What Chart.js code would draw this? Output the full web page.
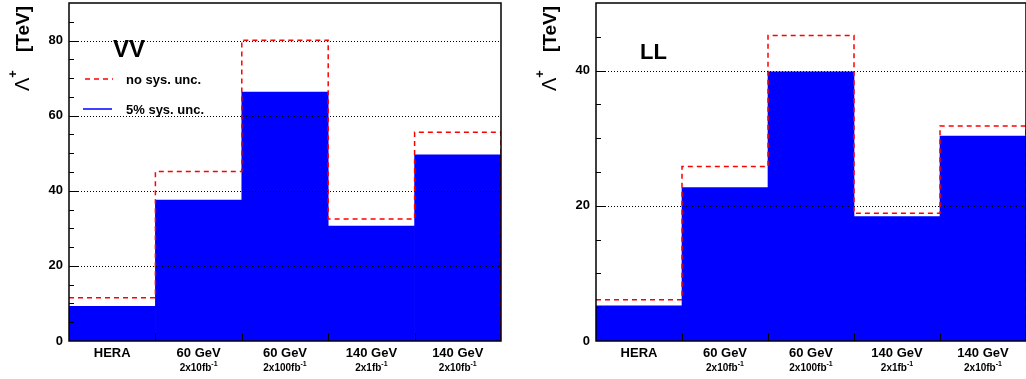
<!DOCTYPE html>
<html>
<head>
<meta charset="utf-8">
<script src="https://cdn.jsdelivr.net/npm/chart.js@4.4.1/dist/chart.umd.min.js"></script>
<style>
  html, body { margin: 0; padding: 0; background: #fff; overflow: hidden; }
  #wrap { position: relative; width: 1026px; height: 379px; }
  canvas { position: absolute; top: 0; }
</style>
</head>
<body>
<div id="wrap">
  <canvas id="vv" width="513" height="379" style="left:0"></canvas>
  <canvas id="ll" width="513" height="379" style="left:513px"></canvas>
</div>
<script>
// scenario labels (two lines: beam energy, luminosity)
const categories = ['HERA', '60 GeV', '60 GeV', '140 GeV', '140 GeV'];
const lumiLabels = ['', '2x10fb', '2x100fb', '2x1fb', '2x10fb'];
const lumiPower = '-1';

// Lambda+ limits in TeV
const vvNoSys = [11.5, 45.1, 80.1, 32.5, 55.6];
const vvSys5  = [9.2, 37.5, 66.3, 30.6, 49.6];
const llNoSys = [6.1, 25.8, 45.2, 18.9, 31.8];
const llSys5  = [5.2, 22.7, 39.8, 18.4, 30.3];

// y axis
const vvTicks = [0, 20, 40, 60, 80];
const llTicks = [0, 20, 40];
const vvMax = 90;
const llMax = 50;
const minorStep = 5;

const FONT = '"Liberation Sans", Arial, Helvetica, sans-serif';

// histogram outline: flat top over each bin, drop to 0 at the end
function stepOutline(vals) {
  const pts = [];
  vals.forEach((v, i) => {
    pts.push({ x: i, y: v });
    pts.push({ x: i + 1, y: v });
  });
  pts.push({ x: vals.length, y: 0 });
  return pts;
}

const panelDecor = {
  id: 'panelDecor',
  afterDatasetsDraw(chart, args, opts) {
    const ctx = chart.ctx;
    const ca = chart.chartArea;
    const y = chart.scales.y;
    const xs = chart.scales.xs;
    ctx.save();

    // dotted grid on top of the bars
    ctx.strokeStyle = '#000';
    ctx.lineWidth = 1;
    ctx.setLineDash([1, 2]);
    opts.ticks.forEach(v => {
      if (v === 0) return;
      const py = Math.round(y.getPixelForValue(v)) + 0.5;
      ctx.beginPath();
      ctx.moveTo(ca.left, py);
      ctx.lineTo(ca.right, py);
      ctx.stroke();
    });
    ctx.setLineDash([]);

    // inward ticks
    ctx.lineWidth = 1;
    for (let v = minorStep; v < opts.max; v += minorStep) {
      const py = Math.round(y.getPixelForValue(v)) + 0.5;
      const len = v % 20 === 0 ? 10 : 5;
      ctx.beginPath();
      ctx.moveTo(ca.left, py);
      ctx.lineTo(ca.left + len, py);
      ctx.stroke();
    }
    for (let i = 1; i < categories.length; i++) {
      const px = Math.round(xs.getPixelForValue(i)) + 0.5;
      ctx.beginPath();
      ctx.moveTo(px, ca.bottom);
      ctx.lineTo(px, ca.bottom - 8);
      ctx.stroke();
    }

    // frame
    ctx.lineWidth = 1.5;
    ctx.strokeRect(ca.left, ca.top, ca.right - ca.left, ca.bottom - ca.top);
    ctx.restore();
  },
  afterDraw(chart, args, opts) {
    const ctx = chart.ctx;
    const ca = chart.chartArea;
    const x = chart.scales.x;
    ctx.save();
    ctx.fillStyle = '#000';

    // category labels
    categories.forEach((c, i) => {
      const px = x.getPixelForValue(i);
      ctx.textAlign = 'center';
      ctx.textBaseline = 'middle';
      ctx.font = 'bold 13px ' + FONT;
      ctx.fillText(c, px, ca.bottom + 12);
      if (lumiLabels[i]) {
        ctx.font = 'bold 10px ' + FONT;
        const w1 = ctx.measureText(lumiLabels[i]).width;
        ctx.font = 'bold 7px ' + FONT;
        const w2 = ctx.measureText(lumiPower).width;
        const x0 = px - (w1 + w2) / 2;
        ctx.textAlign = 'left';
        ctx.textBaseline = 'alphabetic';
        ctx.font = 'bold 10px ' + FONT;
        ctx.fillText(lumiLabels[i], x0, ca.bottom + 30);
        ctx.font = 'bold 7px ' + FONT;
        ctx.fillText(lumiPower, x0 + w1, ca.bottom + 25);
      }
    });

    // y title: Lambda^+ [TeV], rotated
    ctx.translate(ca.left - 40, 91);
    ctx.rotate(-Math.PI / 2);
    ctx.textAlign = 'left';
    ctx.textBaseline = 'alphabetic';
    ctx.font = '20px ' + FONT;
    ctx.fillText('\u039B', 0, 0);
    const lw = ctx.measureText('\u039B').width;
    ctx.font = 'bold 13px ' + FONT;
    ctx.fillText('+', lw, -12);
    ctx.font = 'bold 19px ' + FONT;
    ctx.fillText('[TeV]', 39, 0);
    ctx.setTransform(1, 0, 0, 1, 0, 0);

    // panel name
    ctx.font = 'bold ' + opts.nameSize + 'px ' + FONT;
    ctx.textAlign = 'left';
    ctx.textBaseline = 'alphabetic';
    ctx.fillText(opts.name, ca.left + 44, opts.nameY);

    // legend
    if (opts.legend) {
      const ds = chart.data.datasets;
      const rows = [
        { d: ds[1], y: 79 },
        { d: ds[0], y: 109 }
      ];
      rows.forEach(r => {
        ctx.beginPath();
        if (r.d.type === 'line') {
          ctx.strokeStyle = r.d.borderColor;
          ctx.lineWidth = 1.5;
          ctx.setLineDash(r.d.borderDash);
          ctx.moveTo(ca.left + 16, r.y);
          ctx.lineTo(ca.left + 44, r.y);
        } else {
          ctx.strokeStyle = r.d.backgroundColor;
          ctx.lineWidth = 1.5;
          ctx.setLineDash([]);
          ctx.moveTo(ca.left + 14, r.y);
          ctx.lineTo(ca.left + 43, r.y);
        }
        ctx.stroke();
        ctx.setLineDash([]);
        ctx.font = 'bold 13px ' + FONT;
        ctx.textBaseline = 'middle';
        ctx.fillText(r.d.label, ca.left + 57, r.y + 1);
      });
    }
    ctx.restore();
  }
};

function makePanel(id, noSys, sys5, ticks, max, yWidth, padRight, decor) {
  new Chart(document.getElementById(id), {
    type: 'bar',
    data: {
      labels: categories,
      datasets: [
        {
          label: '5% sys. unc.',
          data: sys5,
          backgroundColor: '#0000ff',
          borderWidth: 0,
          categoryPercentage: 1.0,
          barPercentage: 1.0,
          grouped: false,
          xAxisID: 'x',
          order: 2
        },
        {
          type: 'line',
          label: 'no sys. unc.',
          data: stepOutline(noSys),
          borderColor: '#ff0000',
          borderWidth: 1.5,
          borderDash: [5, 4],
          pointRadius: 0,
          fill: false,
          tension: 0,
          xAxisID: 'xs',
          order: 1
        }
      ]
    },
    options: {
      responsive: false,
      animation: false,
      layout: { padding: { top: 3, bottom: 38, left: 0, right: padRight } },
      plugins: {
        legend: { display: false },
        tooltip: { enabled: false },
        panelDecor: Object.assign({ ticks: ticks, max: max }, decor)
      },
      scales: {
        x: { type: 'category', display: false, offset: true },
        xs: { type: 'linear', axis: 'x', display: false, offset: false,
              min: 0, max: categories.length },
        y: {
          min: 0,
          max: max,
          grid: { display: false, drawTicks: false },
          border: { display: false },
          afterBuildTicks: s => { s.ticks = ticks.map(v => ({ value: v })); },
          afterFit: s => { s.width = yWidth; s.paddingTop = 0; s.paddingBottom = 0; },
          ticks: {
            color: '#000',
            padding: 6,
            font: { family: FONT, size: 13, weight: 'bold' }
          }
        }
      }
    },
    plugins: [panelDecor]
  });
}

makePanel('vv', vvNoSys, vvSys5, vvTicks, vvMax, 69, 12,
  { name: 'VV', nameSize: 24, nameY: 57, legend: true });
makePanel('ll', llNoSys, llSys5, llTicks, llMax, 83, 0,
  { name: 'LL', nameSize: 22, nameY: 59, legend: false });
</script>
</body>
</html>
